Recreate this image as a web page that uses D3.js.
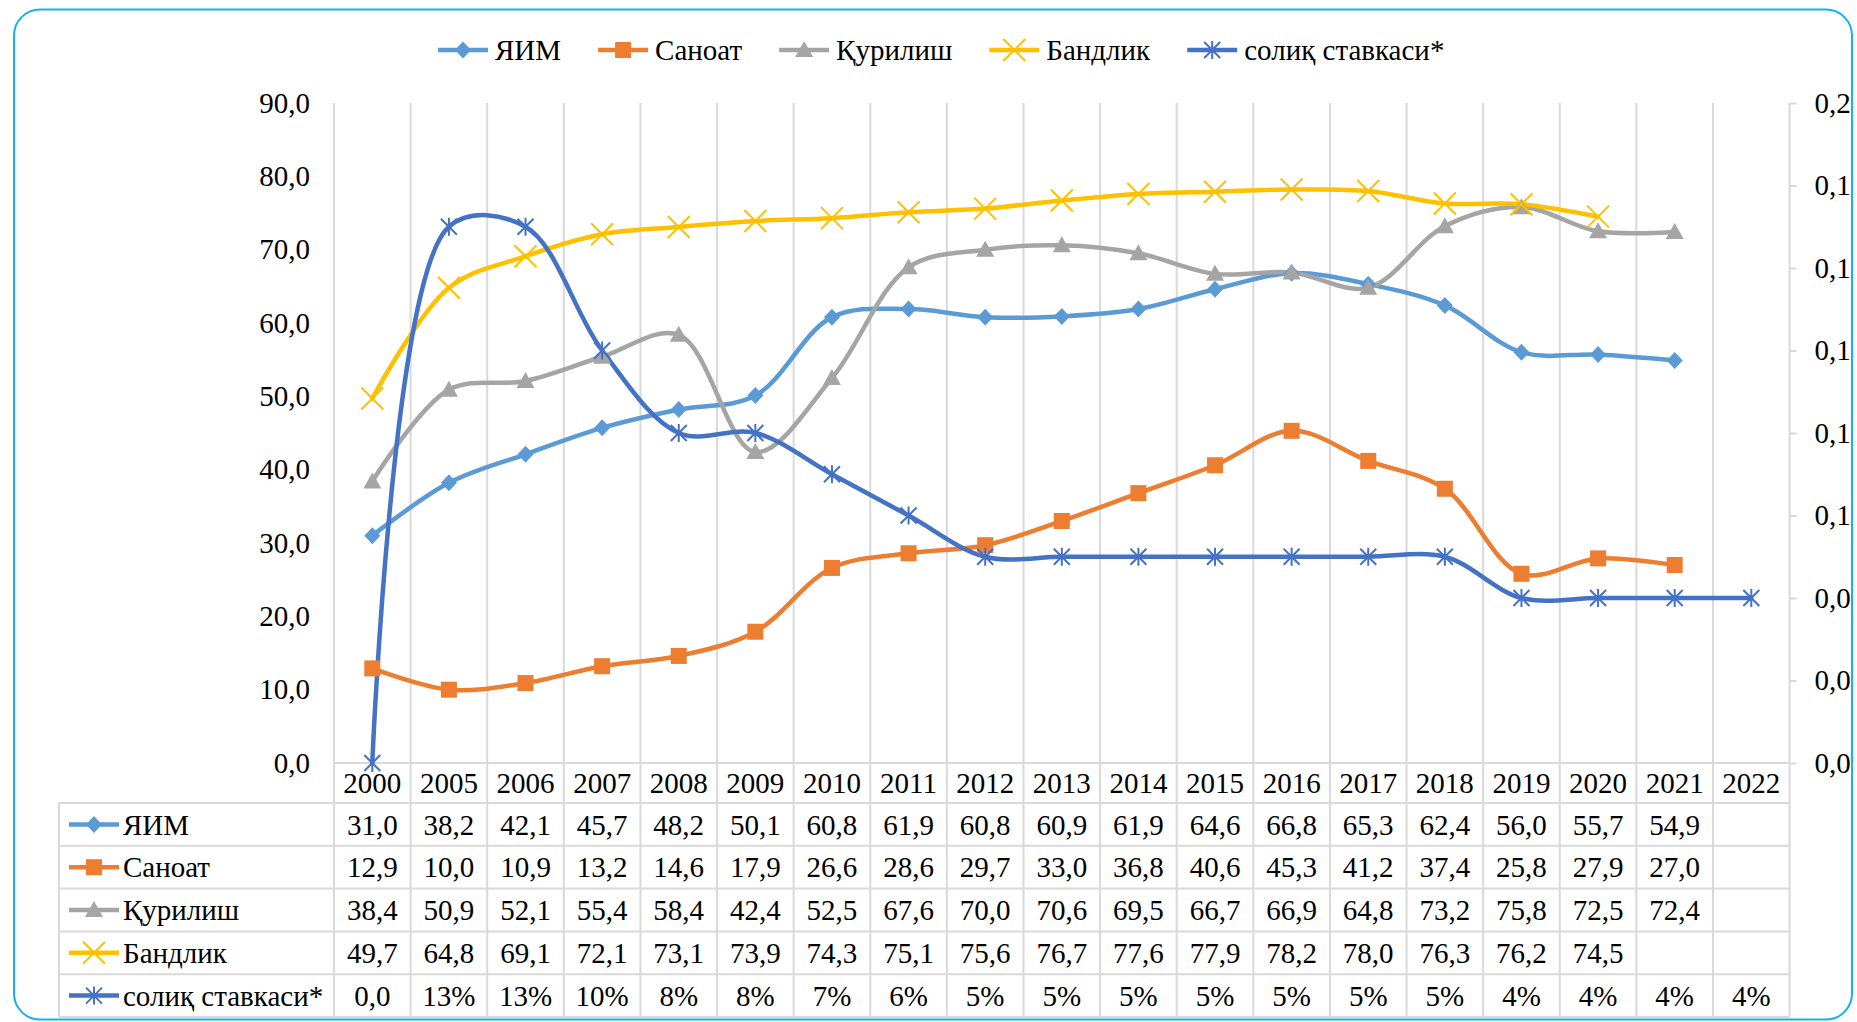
<!DOCTYPE html>
<html>
<head>
<meta charset="utf-8">
<script src="https://cdn.jsdelivr.net/npm/d3@7"></script>
<style>
  body { margin: 0; background: #fff; }
  text { font-family: "Liberation Serif", "Times New Roman", serif; fill: #000; }
</style>
</head>
<body>
<script>
var years = ["2000","2005","2006","2007","2008","2009","2010","2011","2012","2013",
             "2014","2015","2016","2017","2018","2019","2020","2021","2022"];
var yaim     = [31.0,38.2,42.1,45.7,48.2,50.1,60.8,61.9,60.8,60.9,61.9,64.6,66.8,65.3,62.4,56.0,55.7,54.9,null];
var sanoat   = [12.9,10.0,10.9,13.2,14.6,17.9,26.6,28.6,29.7,33.0,36.8,40.6,45.3,41.2,37.4,25.8,27.9,27.0,null];
var qurilish = [38.4,50.9,52.1,55.4,58.4,42.4,52.5,67.6,70.0,70.6,69.5,66.7,66.9,64.8,73.2,75.8,72.5,72.4,null];
var bandlik  = [49.7,64.8,69.1,72.1,73.1,73.9,74.3,75.1,75.6,76.7,77.6,77.9,78.2,78.0,76.3,76.2,74.5,null,null];
var soliq    = [0.00,0.13,0.13,0.10,0.08,0.08,0.07,0.06,0.05,0.05,0.05,0.05,0.05,0.05,0.05,0.04,0.04,0.04,0.04];
var soliqLabels = ["0,0","13%","13%","10%","8%","8%","7%","6%","5%","5%",
                   "5%","5%","5%","5%","5%","4%","4%","4%","4%"];
var seriesNames = ["ЯИМ","Саноат","Қурилиш","Бандлик","солиқ ставкаси*"];
var leftTicks  = [0,10,20,30,40,50,60,70,80,90];
var rightTicks = [0,0.02,0.04,0.06,0.08,0.10,0.12,0.14,0.16];

var W = 1857, H = 1022;
var plotL = 334, plotR = 1789.6, plotT = 103, plotB = 763;
var tableL = 59, rowH = 42.8, tableTop = 803;
var grid = "#d9d9d9";

var series = [
  { name: seriesNames[0], values: yaim,     color: "#5B9BD5", marker: "diamond",  axis: "left" },
  { name: seriesNames[1], values: sanoat,   color: "#ED7D31", marker: "square",   axis: "left" },
  { name: seriesNames[2], values: qurilish, color: "#A5A5A5", marker: "triangle", axis: "left" },
  { name: seriesNames[3], values: bandlik,  color: "#FFC000", marker: "x",        axis: "left" },
  { name: seriesNames[4], values: soliq,    color: "#4472C4", marker: "star",     axis: "right", labels: soliqLabels }
];

var svg = d3.select("body").append("svg")
    .attr("width", W).attr("height", H);

var fmt = function(v) { return d3.format(".1f")(v).replace(".", ","); };

var x = d3.scaleBand().domain(years).range([plotL, plotR]).padding(0);
var yL = d3.scaleLinear().domain([0, 90]).range([plotB, plotT]);
var yR = d3.scaleLinear().domain([0, 0.16]).range([plotB, plotT]);
var cx = function(yr) { return x(yr) + x.bandwidth() / 2; };

// chart frame
svg.append("rect")
  .attr("x", 14).attr("y", 9.5).attr("width", 1838).attr("height", 1010)
  .attr("rx", 26).attr("fill", "none")
  .attr("stroke", "#12B2EE").attr("stroke-width", 2);

// vertical gridlines (run down through the data table)
var bounds = years.map(function(d) { return x(d); }).concat([plotR]);
svg.append("g").selectAll("line").data(bounds).enter().append("line")
  .attr("x1", function(d) { return d; }).attr("x2", function(d) { return d; })
  .attr("y1", plotT).attr("y2", tableTop + rowH * 5)
  .attr("stroke", grid).attr("stroke-width", 2);

// category axis line
svg.append("line")
  .attr("x1", plotL).attr("x2", plotR).attr("y1", plotB).attr("y2", plotB)
  .attr("stroke", grid).attr("stroke-width", 2);

// table lines
var tbl = svg.append("g");
d3.range(6).forEach(function(i) {
  tbl.append("line")
    .attr("x1", tableL).attr("x2", plotR)
    .attr("y1", tableTop + i * rowH).attr("y2", tableTop + i * rowH)
    .attr("stroke", grid).attr("stroke-width", 2);
});
tbl.append("line")
  .attr("x1", tableL).attr("x2", tableL)
  .attr("y1", tableTop).attr("y2", tableTop + rowH * 5)
  .attr("stroke", grid).attr("stroke-width", 2);

// left axis labels
var leftAxis = svg.append("g")
    .attr("transform", "translate(" + (plotL - 4) + ",0)")
    .call(d3.axisLeft(yL).tickValues(leftTicks).tickFormat(fmt).tickSize(0).tickPadding(20));
leftAxis.select(".domain").remove();

// right axis with small outward ticks
var rightAxis = svg.append("g")
    .attr("transform", "translate(" + plotR + ",0)")
    .call(d3.axisRight(yR).tickValues(rightTicks).tickFormat(fmt).tickSize(7).tickPadding(18));
rightAxis.select(".domain").remove();
rightAxis.selectAll(".tick line").attr("stroke", grid).attr("stroke-width", 2);

svg.selectAll(".tick text")
  .style("font-family", '"Liberation Serif", serif')
  .style("font-size", "29px").attr("fill", "#000");

// year labels
svg.append("g").selectAll("text").data(years).enter().append("text")
  .attr("x", function(d) { return cx(d); }).attr("y", (plotB + tableTop) / 2)
  .attr("dy", "0.35em").attr("text-anchor", "middle")
  .style("font-size", "29px").text(function(d) { return d; });

// marker drawing
function drawMarker(g, type, color) {
  if (type == "diamond") {
    g.append("path").attr("d", "M0,-8.5L8,0L0,8.5L-8,0Z").attr("fill", color);
  } else if (type == "square") {
    g.append("rect").attr("x", -8).attr("y", -8).attr("width", 16).attr("height", 16).attr("fill", color);
  } else if (type == "triangle") {
    g.append("path").attr("d", "M0,-9L9,7L-9,7Z").attr("fill", color);
  } else if (type == "x") {
    g.append("path").attr("d", "M-11,-11L11,11M-11,11L11,-11")
      .attr("stroke", color).attr("stroke-width", 2).attr("fill", "none");
  } else if (type == "star") {
    g.append("path").attr("d", "M-8,-8L8,8M-8,8L8,-8M0,-9L0,9")
      .attr("stroke", color).attr("stroke-width", 2).attr("fill", "none");
  }
}

var line = d3.line()
    .x(function(d) { return d.x; }).y(function(d) { return d.y; })
    .curve(d3.curveCatmullRom.alpha(0.5));

series.forEach(function(s) {
  var yy = s.axis == "left" ? yL : yR;
  var pts = [];
  s.values.forEach(function(v, i) {
    if (v != null) pts.push({ x: cx(years[i]), y: yy(v) });
  });
  s.pts = pts;
  svg.append("path").datum(pts)
    .attr("d", line).attr("fill", "none")
    .attr("stroke", s.color).attr("stroke-width", 4.5)
    .attr("stroke-linecap", "round").attr("stroke-linejoin", "round");
});
series.forEach(function(s) {
  s.pts.forEach(function(p) {
    var g = svg.append("g").attr("transform", "translate(" + p.x + "," + p.y + ")");
    drawMarker(g, s.marker, s.color);
  });
});

// legend keys (used in top legend and table)
function legendKey(g, s) {
  g.append("line").attr("x1", 0).attr("x2", 50).attr("y1", 0).attr("y2", 0)
    .attr("stroke", s.color).attr("stroke-width", 4.5);
  var m = g.append("g").attr("transform", "translate(25,0)");
  drawMarker(m, s.marker, s.color);
}

// top legend
var lx = 438;
series.forEach(function(s) {
  var g = svg.append("g").attr("transform", "translate(" + lx + ",50)");
  legendKey(g, s);
  var t = g.append("text").attr("x", 57).attr("dy", "0.35em")
    .style("font-size", "29px").text(s.name);
  lx += 57 + t.node().getComputedTextLength() + 37;
});

// data table rows
series.forEach(function(s, r) {
  var ym = tableTop + rowH * r + rowH / 2;
  var g = svg.append("g").attr("transform", "translate(69," + ym + ")");
  legendKey(g, s);
  g.append("text").attr("x", 54).attr("dy", "0.35em")
    .style("font-size", "29px").text(s.name);
  svg.append("g").selectAll("text").data(s.values).enter()
    .filter(function(d) { return d != null; })
    .append("text")
    .attr("x", function(d, i) { return cx(years[s.values.indexOf(d) >= 0 ? i : i]); })
    .attr("y", ym).attr("dy", "0.35em").attr("text-anchor", "middle")
    .style("font-size", "29px");
  // set positions/text by index so nulls keep their column
  s.values.forEach(function(v, i) {
    if (v == null) return;
    svg.append("text").attr("x", cx(years[i])).attr("y", ym)
      .attr("dy", "0.35em").attr("text-anchor", "middle")
      .style("font-size", "29px")
      .text(s.labels ? s.labels[i] : fmt(v));
  });
});
</script>
</body>
</html>
